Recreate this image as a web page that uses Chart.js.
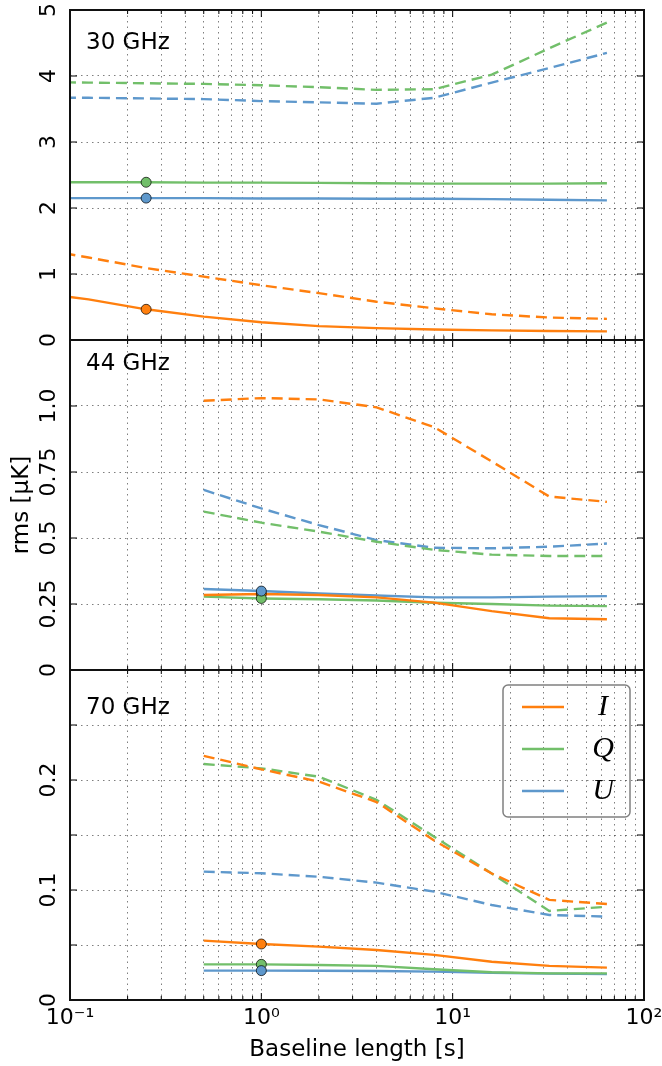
<!DOCTYPE html>
<html>
<head>
<meta charset="utf-8">
<script src="https://cdn.jsdelivr.net/npm/chart.js@4.4.1/dist/chart.umd.min.js"></script>
<style>
  html, body { margin: 0; padding: 0; background: #fff; }
  #wrap { position: relative; width: 662px; height: 1066px; overflow: hidden; }
  canvas { position: absolute; left: 0; }
</style>
</head>
<body>
<div id="wrap">
  <canvas id="p30" width="662" height="360" style="top:0px"></canvas>
  <canvas id="p44" width="662" height="360" style="top:330px"></canvas>
  <canvas id="p70" width="662" height="406" style="top:660px"></canvas>
</div>
<script>
// baseline lengths [s]
const baseline30 = [0.0625, 0.125, 0.25, 0.5, 1, 2, 4, 8, 16, 32, 64];
const baseline = [0.5, 1, 2, 4, 8, 16, 32, 64];

// 30 GHz (solid / dashed)
const i30 = [0.73, 0.615, 0.465, 0.354, 0.27, 0.21, 0.18, 0.16, 0.146, 0.136, 0.131];
const q30 = [2.39, 2.39, 2.39, 2.385, 2.385, 2.38, 2.375, 2.37, 2.37, 2.37, 2.375];
const u30 = [2.15, 2.15, 2.15, 2.15, 2.145, 2.145, 2.14, 2.14, 2.135, 2.125, 2.115];
const i30dash = [1.40, 1.25, 1.09, 0.96, 0.83, 0.71, 0.58, 0.48, 0.39, 0.34, 0.32];
const q30dash = [3.91, 3.90, 3.89, 3.88, 3.86, 3.83, 3.79, 3.80, 4.02, 4.42, 4.81];
const u30dash = [3.67, 3.67, 3.66, 3.65, 3.62, 3.60, 3.58, 3.67, 3.90, 4.12, 4.35];

// 44 GHz
const i44 = [0.284, 0.288, 0.284, 0.275, 0.255, 0.223, 0.196, 0.192];
const q44 = [0.278, 0.271, 0.268, 0.263, 0.255, 0.25, 0.244, 0.242];
const u44 = [0.307, 0.299, 0.29, 0.282, 0.275, 0.275, 0.278, 0.28];
const i44dash = [1.02, 1.03, 1.025, 0.995, 0.92, 0.79, 0.657, 0.637];
const q44dash = [0.60, 0.558, 0.524, 0.486, 0.455, 0.437, 0.432, 0.432];
const u44dash = [0.682, 0.612, 0.549, 0.492, 0.463, 0.461, 0.467, 0.479];

// 70 GHz
const i70 = [0.054, 0.0509, 0.0485, 0.0455, 0.041, 0.0348, 0.031, 0.0294];
const q70 = [0.0324, 0.0324, 0.0318, 0.031, 0.0279, 0.0252, 0.0242, 0.0242];
const u70 = [0.0267, 0.0267, 0.0266, 0.0264, 0.0258, 0.0248, 0.024, 0.0235];
const i70dash = [0.222, 0.2097, 0.1985, 0.180, 0.145, 0.115, 0.091, 0.0873];
const q70dash = [0.2145, 0.2106, 0.203, 0.182, 0.1485, 0.115, 0.081, 0.0848];
const u70dash = [0.1167, 0.1152, 0.112, 0.1067, 0.0985, 0.0864, 0.0773, 0.0758];

// where the round markers sit (index into the baseline arrays)
const mark30 = 2;
const mark44 = 1;
const mark70 = 1;

const stokes = ['I', 'Q', 'U'];
const xTickValues = [0.1, 1, 10, 100];
const xTickLabels = ['10⁻¹', '10⁰', '10¹', '10²'];
const yTicks30 = [0, 1, 2, 3, 4, 5];
const yLabels30 = ['0', '1', '2', '3', '4', '5'];
const yTicks44 = [0, 0.25, 0.5, 0.75, 1.0];
const yLabels44 = ['0', '0.25', '0.5', '0.75', '1.0'];
const yTicks70 = [0, 0.1, 0.2];
const yLabels70 = ['0', '0.1', '0.2'];

const colI = '#ff7f0e';
const colQ = '#72bf6a';
const colU = '#5e98cc';
const gridCol = 'rgba(0,0,0,0.5)';

Chart.defaults.font.family = '"DejaVu Sans", sans-serif';
Chart.defaults.color = '#000';

function pick(values, labels) {
  return v => {
    const k = values.findIndex(t => Math.abs(t - v) < 1e-9);
    return k < 0 ? '' : labels[k];
  };
}

function wholeStep(v) {
  const m = v / Math.pow(10, Math.floor(Math.log10(v) + 1e-9));
  return Math.abs(m - Math.round(m)) < 1e-6;
}

function lineSet(label, xs, ys, color, dashed) {
  return {
    label: label,
    data: xs.map((x, k) => ({x: x, y: ys[k]})),
    borderColor: color,
    backgroundColor: color,
    borderWidth: 2.4,
    borderDash: dashed ? [11, 6] : [],
    pointRadius: 0,
    pointHoverRadius: 0,
    tension: 0,
    order: dashed ? 20 : 10,
    inLegend: !dashed
  };
}

function markSet(label, x, y, color, order) {
  return {
    label: label,
    data: [{x: x, y: y}],
    showLine: false,
    pointRadius: 5,
    pointBackgroundColor: color,
    pointBorderColor: 'rgba(0,0,0,0.7)',
    pointBorderWidth: 1,
    order: order
  };
}

// frame, inward ticks and the band name
const panelDecor = {
  id: 'panelDecor',
  afterDraw(chart, args, opts) {
    const {ctx, chartArea: a, scales} = chart;
    ctx.save();
    ctx.strokeStyle = '#000';
    ctx.lineWidth = 1;
    ctx.beginPath();
    scales.x.ticks.forEach(t => {
      const px = scales.x.getPixelForValue(t.value);
      const lg = Math.log10(t.value);
      const len = Math.abs(lg - Math.round(lg)) < 1e-9 ? 7 : 4;
      ctx.moveTo(px, a.bottom); ctx.lineTo(px, a.bottom - len);
      ctx.moveTo(px, a.top); ctx.lineTo(px, a.top + len);
    });
    scales.y.ticks.forEach(t => {
      const py = scales.y.getPixelForValue(t.value);
      ctx.moveTo(a.left, py); ctx.lineTo(a.left + 7, py);
      ctx.moveTo(a.right, py); ctx.lineTo(a.right - 7, py);
    });
    ctx.stroke();
    ctx.strokeStyle = '#111';
    ctx.lineWidth = 2;
    ctx.strokeRect(a.left, a.top, a.right - a.left, a.bottom - a.top);
    ctx.fillStyle = '#000';
    ctx.font = '23px "DejaVu Sans"';
    ctx.textAlign = 'left';
    ctx.textBaseline = 'middle';
    ctx.fillText(opts.text, a.left + 16, a.top + opts.dy);
    ctx.restore();
  }
};

// boxed legend in the lower panel
const boxLegend = {
  id: 'boxLegend',
  afterDraw(chart) {
    const {ctx, chartArea: a} = chart;
    const w = 127, h = 132, r = 5;
    const x0 = a.right - 14 - w, y0 = a.top + 15;
    ctx.save();
    ctx.beginPath();
    ctx.moveTo(x0 + r, y0);
    ctx.lineTo(x0 + w - r, y0); ctx.arcTo(x0 + w, y0, x0 + w, y0 + r, r);
    ctx.lineTo(x0 + w, y0 + h - r); ctx.arcTo(x0 + w, y0 + h, x0 + w - r, y0 + h, r);
    ctx.lineTo(x0 + r, y0 + h); ctx.arcTo(x0, y0 + h, x0, y0 + h - r, r);
    ctx.lineTo(x0, y0 + r); ctx.arcTo(x0, y0, x0 + r, y0, r);
    ctx.closePath();
    ctx.strokeStyle = '#808080';
    ctx.lineWidth = 1.5;
    ctx.stroke();
    const items = chart.data.datasets.filter(d => d.inLegend);
    items.forEach((d, k) => {
      const y = y0 + 22 + k * 42;
      ctx.beginPath();
      ctx.strokeStyle = d.borderColor;
      ctx.lineWidth = 2.5;
      ctx.moveTo(x0 + 19, y); ctx.lineTo(x0 + 61, y);
      ctx.stroke();
      ctx.fillStyle = '#000';
      ctx.font = 'italic 30px "Liberation Serif"';
      ctx.textAlign = 'center';
      ctx.textBaseline = 'middle';
      ctx.fillText(d.label, x0 + 100, y);
    });
    ctx.restore();
  }
};

function makePanel(id, cfg) {
  const xs = cfg.xs;
  const datasets = [
    markSet('I', xs[cfg.mark], cfg.i[cfg.mark], colI, 3),
    markSet('Q', xs[cfg.mark], cfg.q[cfg.mark], colQ, 2),
    markSet('U', xs[cfg.mark], cfg.u[cfg.mark], colU, 1),
    lineSet(stokes[0], xs, cfg.i, colI, false),
    lineSet(stokes[1], xs, cfg.q, colQ, false),
    lineSet(stokes[2], xs, cfg.u, colU, false),
    lineSet(stokes[0], xs, cfg.idash, colI, true),
    lineSet(stokes[1], xs, cfg.qdash, colQ, true),
    lineSet(stokes[2], xs, cfg.udash, colU, true)
  ];
  const plugins = [panelDecor];
  if (cfg.legend) plugins.push(boxLegend);
  return new Chart(document.getElementById(id), {
    type: 'line',
    data: { datasets: datasets },
    plugins: plugins,
    options: {
      responsive: false,
      animation: false,
      events: [],
      layout: { padding: { top: 10, right: 18, bottom: cfg.bottom ? 0 : 20, left: 0 } },
      plugins: {
        legend: { display: false },
        tooltip: { enabled: false },
        panelDecor: { text: cfg.name, dy: cfg.dy }
      },
      scales: {
        x: {
          type: 'logarithmic',
          min: 0.1,
          max: 100,
          grid: { color: gridCol, lineWidth: 1, drawTicks: false },
          border: { display: false, dash: [1.5, 4] },
          ticks: {
            display: cfg.bottom,
            autoSkip: false,
            minRotation: 0,
            maxRotation: 0,
            padding: 5,
            font: { size: 22 },
            callback: pick(xTickValues, xTickLabels)
          },
          title: {
            display: cfg.bottom,
            text: 'Baseline length [s]',
            font: { size: 23 },
            padding: { top: 0, bottom: 2 }
          },
          afterBuildTicks: s => { s.ticks = s.ticks.filter(t => wholeStep(t.value)); },
          afterFit: s => { s.height = cfg.bottom ? 66 : 0; s.paddingLeft = 0; s.paddingRight = 0; }
        },
        y: {
          min: 0,
          max: cfg.yMax,
          grid: { color: gridCol, lineWidth: 1, drawTicks: false },
          border: { display: false, dash: [1.5, 4] },
          ticks: {
            stepSize: cfg.yStep,
            autoSkip: false,
            minRotation: 90,
            maxRotation: 90,
            crossAlign: 'center',
            padding: cfg.tickPad,
            font: { size: 22 },
            callback: pick(cfg.yTicks, cfg.yLabels)
          },
          title: {
            display: !!cfg.yTitle,
            text: cfg.yTitle || '',
            font: { size: 23 },
            padding: { top: 8, bottom: 0 }
          },
          afterFit: s => { s.width = 70; s.paddingTop = 0; s.paddingBottom = 0; }
        }
      }
    }
  });
}

makePanel('p30', {
  xs: baseline30, i: i30, q: q30, u: u30, idash: i30dash, qdash: q30dash, udash: u30dash,
  mark: mark30, name: '30 GHz', dy: 33, yMax: 5, yStep: 1, yTicks: yTicks30, yLabels: yLabels30,
  tickPad: 14, bottom: false
});
makePanel('p44', {
  xs: baseline, i: i44, q: q44, u: u44, idash: i44dash, qdash: q44dash, udash: u44dash,
  mark: mark44, name: '44 GHz', dy: 24, yMax: 1.25, yStep: 0.25, yTicks: yTicks44, yLabels: yLabels44,
  tickPad: -3.5, bottom: false, yTitle: 'rms [μK]'
});
makePanel('p70', {
  xs: baseline, i: i70, q: q70, u: u70, idash: i70dash, qdash: q70dash, udash: u70dash,
  mark: mark70, name: '70 GHz', dy: 38, yMax: 0.3, yStep: 0.05, yTicks: yTicks70, yLabels: yLabels70,
  tickPad: 3.5, bottom: true, legend: true
});
</script>
</body>
</html>
